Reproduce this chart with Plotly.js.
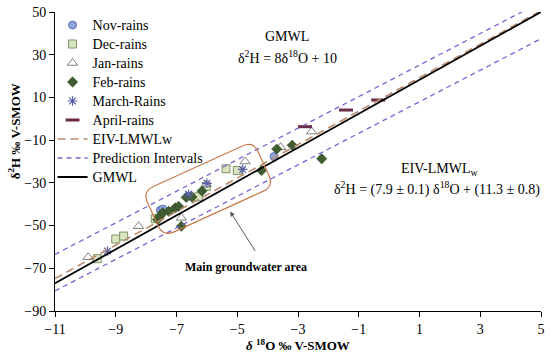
<!DOCTYPE html>
<html>
<head>
<meta charset="utf-8">
<script src="https://cdn.plot.ly/plotly-3.0.1.min.js"></script>
<style>html,body{margin:0;padding:0;background:#fff;}#chart{width:550px;height:355px;}</style>
</head>
<body>
<div id="chart"></div>
<script>
// ---- data ----
const novX = [-7.53, -7.45, -6.62, -3.79];
const novY = [-42.8, -42.3, -36.3, -17.7];
const decX = [-9.61, -9.0, -8.74, -7.7, -6.28, -6.02, -5.37, -5.0];
const decY = [-65.5, -56.3, -54.9, -46.8, -36.5, -31.7, -23.4, -24.2];
const janX = [-9.91, -8.25, -6.84, -6.02, -4.74, -3.57, -2.55];
const janY = [-64.8, -50.3, -46.4, -30.8, -20.0, -13.3, -6.0];
const febX = [-7.62, -7.55, -7.45, -7.26, -7.04, -6.93, -6.84, -6.68, -6.49, -6.16, -4.2, -3.7, -3.19, -2.22];
const febY = [-47.2, -45.6, -44.0, -43.3, -41.7, -41.0, -50.3, -36.8, -36.6, -33.8, -24.2, -14.2, -12.4, -18.7];
const marX = [-9.27, -6.6, -6.0, -4.82];
const marY = [-61.9, -35.3, -30.2, -23.7];
const aprX = [-2.77, -1.42, -0.36];
const aprY = [-3.7, 4.1, 8.8];
const lineX = [-11, 5];
const gmwlY = [-77, 50];
const eivY = [-74.8, 50.6];
const piUpperY = [-63.5, 54.7];
const piLowerY = [-80.6, 37.5];
const xTicks = [-11, -9, -7, -5, -3, -1, 1, 3, 5];
const yTicks = [-90, -70, -50, -30, -10, 10, 30, 50];
const seriesNames = ['Nov-rains', 'Dec-rains', 'Jan-rains', 'Feb-rains', 'March-Rains', 'April-rains',
                     'EIV-LMWLw', 'Prediction Intervals', 'GMWL'];

const FONT = 'Liberation Serif, Times New Roman, serif';
function nm(s) { return '<span style="font-size:14px">' + s + '</span>'; }

const traces = [
  {x: novX, y: novY, mode: 'markers', type: 'scatter', name: nm(seriesNames[0]),
   marker: {symbol: 'circle', size: 8, color: '#8fa3d9', line: {color: '#5a77bd', width: 1}}},
  {x: decX, y: decY, mode: 'markers', type: 'scatter', name: nm(seriesNames[1]),
   marker: {symbol: 'square', size: 8, color: '#d8e5bf', line: {color: '#7e9568', width: 1}}},
  {x: janX, y: janY, mode: 'markers', type: 'scatter', name: nm(seriesNames[2]),
   marker: {symbol: 'triangle-up', size: 9, color: '#ffffff', line: {color: '#808080', width: 1}}},
  {x: febX, y: febY, mode: 'markers', type: 'scatter', name: nm(seriesNames[3]),
   marker: {symbol: 'diamond', size: 8, color: '#3f5d30', line: {color: '#2c4520', width: 0.5}}},
  {x: marX, y: marY, mode: 'markers', type: 'scatter', name: nm(seriesNames[4]),
   marker: {symbol: 'asterisk-open', size: 8, color: '#5b5fa8', line: {color: '#5b5fa8', width: 1.2}}},
  {x: aprX, y: aprY, mode: 'markers', type: 'scatter', name: nm(seriesNames[5]),
   marker: {symbol: 'line-ew-open', size: 10, color: '#6a2b4b', line: {color: '#6a2b4b', width: 3}}},
  {x: lineX, y: eivY, mode: 'lines', type: 'scatter', name: nm(seriesNames[6]),
   line: {color: '#b98a6b', width: 1.6, dash: '8px,5px'}},
  {x: lineX, y: piUpperY, mode: 'lines', type: 'scatter', name: nm(seriesNames[7]), legendgroup: 'pi',
   line: {color: '#7a62d2', width: 1.3, dash: '5px,4px'}},
  {x: lineX, y: piLowerY, mode: 'lines', type: 'scatter', name: nm(seriesNames[7]), legendgroup: 'pi', showlegend: false,
   line: {color: '#7a62d2', width: 1.3, dash: '5px,4px'}},
  {x: lineX, y: gmwlY, mode: 'lines', type: 'scatter', name: nm(seriesNames[8]),
   line: {color: '#000000', width: 1.8}}
];

// rounded, rotated rectangle around the main groundwater cluster (built in pixel space)
const PL = 54.5, PR = 541.5, PT = 11.5, PB = 311.5;
function px2x(p) { return -11 + (p - PL) / (PR - PL) * 16; }
function px2y(p) { return 50 - (p - PT) / (PB - PT) * 140; }
const ang = 24.5 * Math.PI / 180;
const u = [Math.cos(ang), -Math.sin(ang)], n = [Math.sin(ang), Math.cos(ang)];
const c = [208, 189], L = 61, W = 25, r = 12;
function P(a, b) {
  const px = c[0] + a * u[0] + b * n[0], py = c[1] + a * u[1] + b * n[1];
  return px2x(px).toFixed(4) + ',' + px2y(py).toFixed(4);
}
const rectPath = 'M' + P(-L + r, -W) + ' L' + P(L - r, -W) + ' Q' + P(L, -W) + ' ' + P(L, -W + r) +
  ' L' + P(L, W - r) + ' Q' + P(L, W) + ' ' + P(L - r, W) +
  ' L' + P(-L + r, W) + ' Q' + P(-L, W) + ' ' + P(-L, W - r) +
  ' L' + P(-L, -W + r) + ' Q' + P(-L, -W) + ' ' + P(-L + r, -W) + ' Z';

const layout = {
  width: 550, height: 355,
  margin: {l: 54.5, r: 8.5, t: 11.5, b: 43.5},
  paper_bgcolor: '#ffffff', plot_bgcolor: '#ffffff',
  font: {family: FONT, size: 14, color: '#000'},
  showlegend: true,
  legend: {x: -0.005, y: 1.005, xanchor: 'left', yanchor: 'top', bgcolor: 'rgba(0,0,0,0)',
           font: {family: FONT, size: 12, color: '#000'}, tracegroupgap: 0},
  xaxis: {range: [-11, 5], tickvals: xTicks, ticks: 'outside', ticklen: 5, tickcolor: '#000',
          showline: true, linecolor: '#000', linewidth: 1, showgrid: false, zeroline: false,
          tickfont: {family: FONT, size: 14},
          title: {text: '<b><i>δ</i> <sup>18</sup>O ‰ V-SMOW</b>', font: {family: FONT, size: 13}, standoff: 4}},
  yaxis: {range: [-90, 50], tickvals: yTicks, ticks: 'outside', ticklen: 5, tickcolor: '#000',
          showline: true, linecolor: '#000', linewidth: 1, showgrid: false, zeroline: false,
          tickfont: {family: FONT, size: 14}},
  shapes: [
    {type: 'path', xref: 'x', yref: 'y', path: rectPath, line: {color: '#c8794c', width: 1.2}, fillcolor: 'rgba(0,0,0,0)'}
  ],
  annotations: [
    {xref: 'paper', yref: 'paper', x: -0.085, y: 0.60, text: '<b>δ<sup>2</sup>H ‰ V-SMOW</b>', textangle: -90,
     showarrow: false, font: {family: FONT, size: 13}, xanchor: 'center', yanchor: 'middle'},
    {xref: 'x', yref: 'y', x: -3.35, y: 38.3, text: 'GMWL', showarrow: false, font: {family: FONT, size: 14}},
    {xref: 'x', yref: 'y', x: -3.35, y: 29.0, text: 'δ<sup>2</sup>H = 8δ<sup>18</sup>O + 10', showarrow: false, font: {family: FONT, size: 14}},
    {xref: 'x', yref: 'y', x: 1.67, y: -23.6, text: 'EIV-LMWL<sub>w</sub>', showarrow: false, font: {family: FONT, size: 14}},
    {xref: 'x', yref: 'y', x: 1.57, y: -32.6, text: 'δ<sup>2</sup>H = (7.9 ± 0.1) δ<sup>18</sup>O + (11.3 ± 0.8)', showarrow: false, font: {family: FONT, size: 14}},
    {xref: 'x', yref: 'y', x: -4.72, y: -69.5, text: '<b>Main groundwater area</b>', showarrow: false, font: {family: FONT, size: 12}},
    {xref: 'x', yref: 'y', x: -5.235, y: -43.4, text: '', showarrow: true, ax: 26, ay: 41,
     arrowcolor: '#5a5a5a', arrowwidth: 1, arrowhead: 2, arrowsize: 1}
  ]
};

Plotly.newPlot('chart', traces, layout, {displayModeBar: false, staticPlot: true});
</script>
</body>
</html>
